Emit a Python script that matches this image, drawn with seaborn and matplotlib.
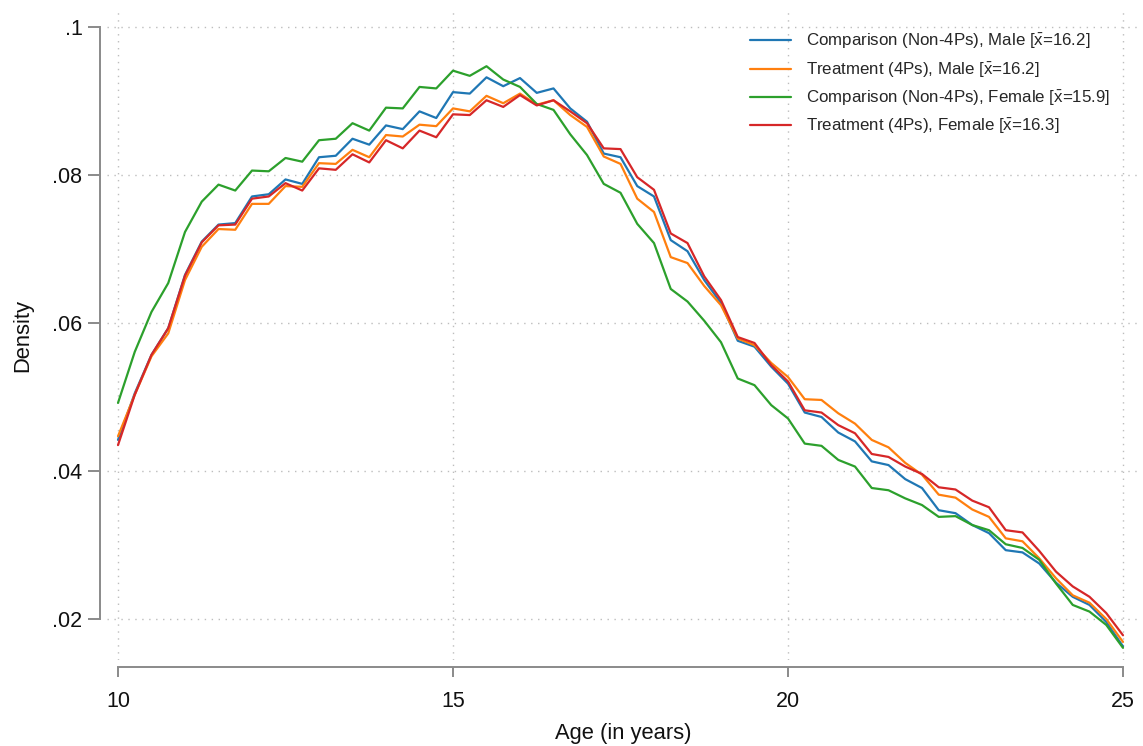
import numpy as np
import pandas as pd
import matplotlib
matplotlib.use("Agg")
import matplotlib.pyplot as plt
import seaborn as sns
from matplotlib.lines import Line2D

age = [10.0 + 0.25 * i for i in range(61)]

comp_male = [0.0442, 0.0505, 0.0557, 0.0593, 0.0665, 0.0710, 0.0733, 0.0735, 0.0771, 0.0774,
             0.0794, 0.0788, 0.0824, 0.0826, 0.0849, 0.0841, 0.0867, 0.0862, 0.0886, 0.0877,
             0.0912, 0.0910, 0.0932, 0.0920, 0.0931, 0.0911, 0.0917, 0.0890, 0.0872, 0.0829,
             0.0824, 0.0785, 0.0771, 0.0712, 0.0697, 0.0658, 0.0627, 0.0576, 0.0568, 0.0541,
             0.0518, 0.0479, 0.0473, 0.0452, 0.0440, 0.0413, 0.0408, 0.0389, 0.0377, 0.0347,
             0.0343, 0.0327, 0.0316, 0.0293, 0.0290, 0.0275, 0.0249, 0.0230, 0.0219, 0.0196,
             0.0163]
treat_male = [0.0447, 0.0503, 0.0555, 0.0586, 0.0658, 0.0703, 0.0727, 0.0726, 0.0761, 0.0761,
              0.0785, 0.0784, 0.0816, 0.0815, 0.0834, 0.0824, 0.0854, 0.0852, 0.0868, 0.0866,
              0.0890, 0.0886, 0.0907, 0.0897, 0.0910, 0.0895, 0.0901, 0.0881, 0.0865, 0.0825,
              0.0815, 0.0768, 0.0750, 0.0689, 0.0681, 0.0650, 0.0624, 0.0579, 0.0570, 0.0546,
              0.0527, 0.0497, 0.0496, 0.0478, 0.0464, 0.0442, 0.0432, 0.0411, 0.0395, 0.0368,
              0.0364, 0.0348, 0.0338, 0.0309, 0.0305, 0.0282, 0.0255, 0.0232, 0.0222, 0.0200,
              0.0169]
comp_female = [0.0492, 0.0561, 0.0615, 0.0654, 0.0723, 0.0764, 0.0787, 0.0779, 0.0806, 0.0805,
               0.0823, 0.0818, 0.0847, 0.0849, 0.0870, 0.0860, 0.0891, 0.0890, 0.0919, 0.0917,
               0.0941, 0.0934, 0.0947, 0.0929, 0.0919, 0.0896, 0.0888, 0.0855, 0.0827, 0.0788,
               0.0776, 0.0734, 0.0708, 0.0646, 0.0629, 0.0603, 0.0574, 0.0525, 0.0516, 0.0489,
               0.0471, 0.0437, 0.0434, 0.0415, 0.0406, 0.0377, 0.0374, 0.0363, 0.0354, 0.0338,
               0.0339, 0.0327, 0.0320, 0.0301, 0.0296, 0.0280, 0.0248, 0.0219, 0.0210, 0.0192,
               0.0161]
treat_female = [0.0435, 0.0503, 0.0557, 0.0593, 0.0664, 0.0709, 0.0732, 0.0733, 0.0768, 0.0771,
                0.0789, 0.0779, 0.0809, 0.0807, 0.0828, 0.0817, 0.0847, 0.0836, 0.0860, 0.0851,
                0.0882, 0.0881, 0.0901, 0.0892, 0.0908, 0.0894, 0.0901, 0.0886, 0.0870, 0.0836,
                0.0835, 0.0797, 0.0780, 0.0721, 0.0708, 0.0663, 0.0631, 0.0581, 0.0573, 0.0543,
                0.0521, 0.0482, 0.0479, 0.0462, 0.0451, 0.0423, 0.0419, 0.0406, 0.0396, 0.0378,
                0.0375, 0.0360, 0.0351, 0.0320, 0.0317, 0.0292, 0.0264, 0.0244, 0.0230, 0.0208,
                0.0178]

group_names = ["Comparison (Non-4Ps), Male", "Treatment (4Ps), Male",
               "Comparison (Non-4Ps), Female", "Treatment (4Ps), Female"]
group_means = ["16.2", "16.2", "15.9", "16.3"]
labels = [f"{g} [$\\bar{{\\mathrm{{x}}}}$=" + m + "]" for g, m in zip(group_names, group_means)]
colors = ["#1f77b4", "#ff7f0e", "#2ca02c", "#d62728"]

x_ticks = [10, 15, 20, 25]
y_ticks = [0.02, 0.04, 0.06, 0.08, 0.1]
y_ticklabels = [".02", ".04", ".06", ".08", ".1"]

series = [comp_male, treat_male, comp_female, treat_female]
df = pd.concat([pd.DataFrame({"age": age, "density": s, "group": g})
                for s, g in zip(series, group_names)], ignore_index=True)

sns.set_theme(style="white")
plt.rcParams["font.family"] = ["Liberation Sans", "DejaVu Sans"]
plt.rcParams["mathtext.fontset"] = "custom"
plt.rcParams["mathtext.rm"] = "Liberation Sans"
plt.rcParams["mathtext.it"] = "Liberation Sans"
plt.rcParams["mathtext.bf"] = "Liberation Sans:bold"

W, H, DPI = 1143, 746, 100
fig = plt.figure(figsize=(W / DPI, H / DPI), dpi=DPI)
ax = fig.add_axes([107 / W, 1 - 660 / H, (1140 - 107) / W, (660 - 10) / H])

sns.lineplot(data=df, x="age", y="density", hue="group", hue_order=group_names,
             palette=colors, linewidth=1.6, ax=ax, legend=False, sort=True)

ax.set_xlim(10 - 11 / 67, 25 + 17 / 67)
ax.set_ylim(0.02 - 41 / 7400, 0.1 + 17 / 7400)

ax.set_xticks(x_ticks)
ax.set_xticklabels([str(t) for t in x_ticks])
ax.set_yticks(y_ticks)
ax.set_yticklabels(y_ticklabels)

grid_kw = dict(color="#bdbdbd", linewidth=1.0, linestyle=(0, (1, 4)), zorder=0)
for yt in y_ticks:
    ax.axhline(yt, **grid_kw)
for xt in x_ticks:
    ax.axvline(xt, **grid_kw)

for s in ["top", "right"]:
    ax.spines[s].set_visible(False)
pt = 72 / DPI
ax.spines["left"].set_position(("outward", 7 * pt))
ax.spines["bottom"].set_position(("outward", 7 * pt))
ax.spines["left"].set_bounds(0.02, 0.1)
ax.spines["bottom"].set_bounds(10, 25)
for s in ["left", "bottom"]:
    ax.spines[s].set_color("#8a8a8a")
    ax.spines[s].set_linewidth(1.4)

ax.tick_params(axis="y", direction="out", length=12 * pt, width=1.4, color="#8a8a8a",
               labelsize=15.5, pad=4, left=True, labelcolor="#111111")
ax.tick_params(axis="x", direction="out", length=10 * pt, width=1.4, color="#8a8a8a",
               labelsize=15.5, pad=10, bottom=True, labelcolor="#111111")

ax.set_xlabel("Age (in years)", fontsize=15.8, labelpad=8, color="#111111")
ax.set_ylabel("Density", fontsize=15.8, labelpad=14, color="#111111")

handles = [Line2D([], [], color=c, linewidth=1.6) for c in colors]
fig.legend(handles, labels, loc="upper left", bbox_to_anchor=(750 / W, 1 - 32 / H),
           frameon=False, fontsize=12.2, handlelength=2.4, handletextpad=0.9,
           labelspacing=0.54, borderpad=0, borderaxespad=0)

fig.savefig("out.png", dpi=DPI)
